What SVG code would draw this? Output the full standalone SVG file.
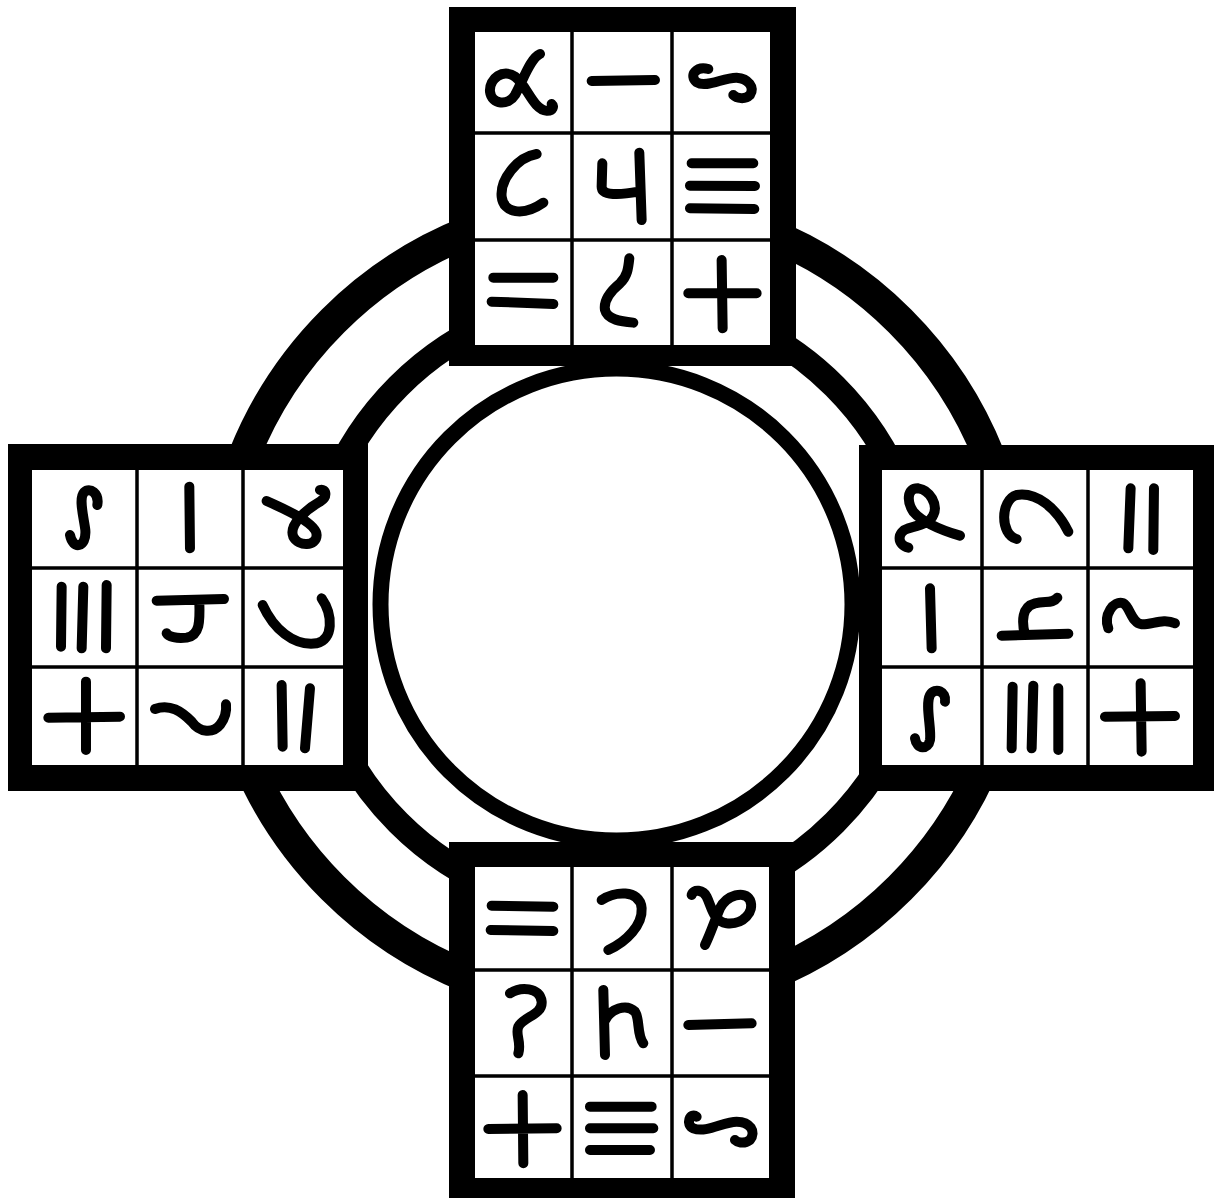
<svg xmlns="http://www.w3.org/2000/svg" width="1214" height="1201" viewBox="0 0 1214 1201">
<style>
.ring{fill:none;stroke:#000}
.frame{fill:#000}
.cells{fill:#fff}
.grid{stroke:#000;stroke-width:3.5}
.g{fill:none;stroke:#000;stroke-width:30;stroke-linecap:round;stroke-linejoin:round}
</style>
<rect width="1214" height="1201" fill="#fff"/>
<g id="rings">
<circle class="ring" cx="616.5" cy="604.5" r="401" stroke-width="32"/>
<circle class="ring" cx="616.5" cy="604.5" r="308.5" stroke-width="25"/>
<circle class="ring" cx="616.5" cy="604.5" r="236" stroke-width="16"/>
</g>
<g id="box-top">
<rect class="frame" x="449" y="7" width="347" height="359"/>
<rect class="cells" x="475" y="32" width="295" height="313"/>
<path class="grid" d="M572,32V345M672,32V345M475,133H770M475,240H770"/>
<g transform="translate(440,0) scale(0.3333)">
<path class="g" d="M300,162 C270,175 250,240 225,285 C205,318 155,315 150,275 C147,235 190,205 225,230 C260,255 280,330 320,332 C340,333 342,318 335,312"/>
<path class="g" d="M455,243 L645,240"/>
<path class="g" d="M805,207 C770,198 745,225 770,247 C800,265 850,232 890,233 C925,235 945,262 930,285 C915,300 890,295 880,285"/>
<path class="g" d="M290,462 C230,472 180,540 185,590 C190,640 250,650 310,608"/>
<path class="g" d="M487,490 L485,560 C485,588 540,585 595,575 M598,458 L605,660"/>
<path class="g" d="M755,490 L940,490 M750,557 L945,558 M750,625 L943,627"/>
<path class="g" d="M160,833 L340,833 M155,905 L340,912"/>
<path class="g" d="M568,775 C565,805 562,830 540,850 C510,875 490,900 495,930 C502,960 545,965 580,968"/>
<path class="g" d="M745,880 L950,880 M845,780 L848,985"/>
</g>
</g>
<g id="box-left">
<rect class="frame" x="8" y="444" width="360" height="347"/>
<rect class="cells" x="32" y="470" width="311" height="295"/>
<path class="grid" d="M137,470V765M243,470V765M32,568H343M32,667H343"/>
<g transform="translate(0,435) scale(0.3333)">
<path class="g" d="M292,210 C298,175 270,155 252,172 C235,190 252,250 256,285 C260,340 218,345 210,300"/>
<path class="g" d="M568,155 L570,340"/>
<path class="g" d="M800,198 C850,220 950,265 950,300 C950,335 895,335 880,305 C865,270 920,222 960,200 C985,185 978,160 960,165"/>
<path class="g" d="M185,455 L183,635 M250,455 L245,640 M320,450 L318,640"/>
<path class="g" d="M470,497 L672,492 M598,500 C600,560 600,600 560,608 C530,612 505,605 500,595"/>
<path class="g" d="M788,510 C820,580 880,635 950,625 C1000,615 1000,540 965,490"/>
<path class="g" d="M145,848 L360,845 M258,740 L258,945"/>
<path class="g" d="M465,822 C510,805 545,830 575,860 C600,895 640,895 660,870 C675,850 680,825 678,808"/>
<path class="g" d="M845,750 L848,935 M930,760 L915,940"/>
</g>
</g>
<g id="box-right">
<rect class="frame" x="859" y="445" width="355" height="346"/>
<rect class="cells" x="882" y="470" width="311" height="295"/>
<path class="grid" d="M982,470V765M1088,470V765M882,568H1193M882,667H1193"/>
<g transform="translate(850,435) scale(0.3333)">
<path class="g" d="M175,338 C140,330 140,290 175,280 C210,270 240,265 250,240 C265,210 240,165 205,160 C170,158 170,200 190,230 C220,265 290,290 330,302"/>
<path class="g" d="M655,290 C620,220 560,170 500,180 C450,195 450,300 500,312"/>
<path class="g" d="M842,160 L835,340 M912,160 L910,345"/>
<path class="g" d="M240,460 L245,640"/>
<path class="g" d="M455,602 L655,596 M525,600 C515,560 515,515 555,505 C590,498 610,505 622,488"/>
<path class="g" d="M775,580 C760,540 790,495 820,505 C840,515 845,565 875,568 C905,570 940,548 975,565"/>
<path class="g" d="M285,800 C290,770 255,755 240,780 C225,810 245,880 240,915 C235,945 200,945 195,910"/>
<path class="g" d="M488,755 L485,940 M550,752 L545,940 M625,760 L625,945"/>
<path class="g" d="M765,845 L975,843 M872,745 L875,950"/>
</g>
</g>
<g id="box-bottom">
<rect class="frame" x="449" y="842" width="346" height="356"/>
<rect class="cells" x="475" y="867" width="294" height="311"/>
<path class="grid" d="M572,867V1178M672,867V1178M475,970H769M475,1076H769"/>
<g transform="translate(440,835) scale(0.3333)">
<path class="g" d="M155,212 L340,215 M152,285 L340,288"/>
<path class="g" d="M485,195 C520,170 600,160 605,220 C608,270 560,320 505,345"/>
<path class="g" d="M755,180 C760,160 790,165 800,185 C815,215 820,260 860,265 C910,270 945,230 930,195 C915,165 860,180 840,220 C825,255 810,300 795,330"/>
<path class="g" d="M210,475 C240,455 300,455 305,500 C308,540 250,545 235,575 C225,600 245,620 235,655"/>
<path class="g" d="M490,465 L495,660 M493,560 C510,520 560,505 585,530 C600,550 590,600 610,625"/>
<path class="g" d="M745,570 L935,565"/>
<path class="g" d="M145,882 L350,880 M248,780 L250,985"/>
<path class="g" d="M450,815 L635,815 M450,880 L640,880 M450,945 L630,945"/>
<path class="g" d="M770,845 C750,830 735,870 760,880 C800,895 850,860 890,860 C930,860 950,890 930,915 C910,930 890,920 885,915"/>
</g>
</g>
</svg>
